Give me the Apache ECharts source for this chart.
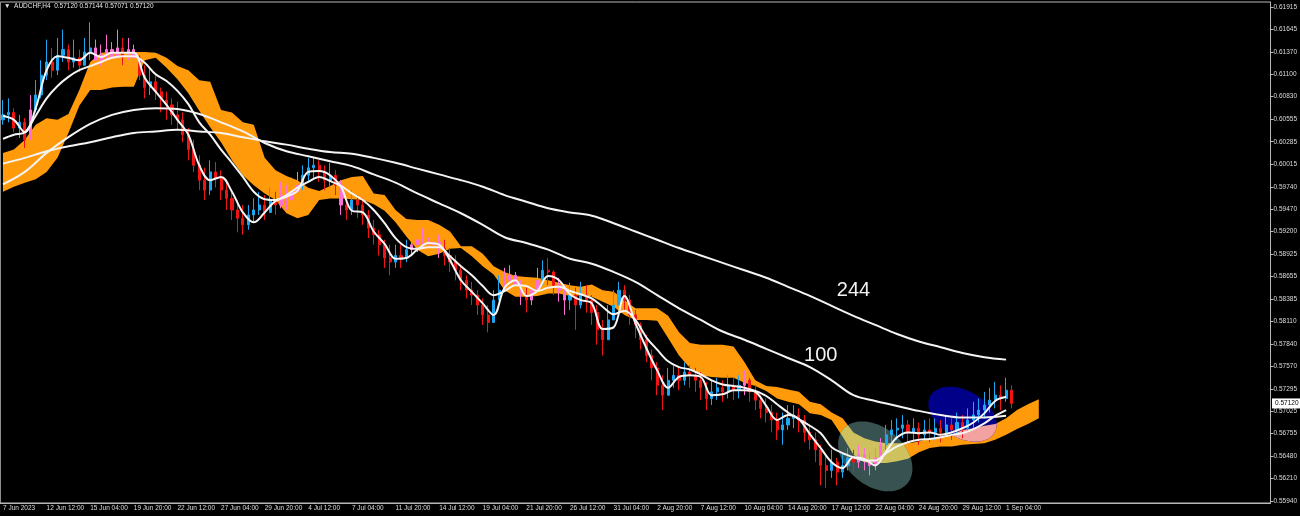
<!DOCTYPE html>
<html>
<head>
<meta charset="utf-8">
<title>AUDCHF,H4</title>
<script src="https://cdn.jsdelivr.net/npm/echarts@6/dist/echarts.min.js"></script>
<style>
  html, body { margin: 0; padding: 0; background: #000; }
  #chart { width: 1300px; height: 516px; }
</style>
</head>
<body>
<div id="chart"></div>
<script>
// axis tick labels
const xLabels = ['7 Jun 2023', '12 Jun 12:00', '15 Jun 04:00', '19 Jun 20:00', '22 Jun 12:00', '27 Jun 04:00',
  '29 Jun 20:00', '4 Jul 12:00', '7 Jul 04:00', '11 Jul 20:00', '14 Jul 12:00', '19 Jul 04:00', '21 Jul 20:00',
  '26 Jul 12:00', '31 Jul 04:00', '2 Aug 20:00', '7 Aug 12:00', '10 Aug 04:00', '14 Aug 20:00', '17 Aug 12:00',
  '22 Aug 04:00', '24 Aug 20:00', '29 Aug 12:00', '1 Sep 04:00'];
const yTicks = [0.61915, 0.61645, 0.61370, 0.61100, 0.60830, 0.60555, 0.60285, 0.60015, 0.59740, 0.59470,
  0.59200, 0.58925, 0.58655, 0.58385, 0.58110, 0.57840, 0.57570, 0.57295, 0.57025, 0.56755, 0.56480,
  0.56210, 0.55940];

// candles, two H4 bars each; open = previous close
const firstOpen = 0.6055;
const closes = [
  0.6061, 0.6064, 0.6045, 0.6052, 0.6031, 0.6067, 0.6085, 0.6109, 0.6125, 0.6115,
  0.6133, 0.6140, 0.6125, 0.6130, 0.6121, 0.6137, 0.6142, 0.6127, 0.6133, 0.6140,
  0.6130, 0.6142, 0.6133, 0.6140, 0.6130, 0.6109, 0.6094, 0.6101, 0.6089, 0.6079,
  0.6073, 0.6061, 0.6055, 0.6037, 0.6019, 0.6000, 0.5982, 0.5970, 0.5992, 0.5985,
  0.5970, 0.5960, 0.5946, 0.5936, 0.5928, 0.5940, 0.5946, 0.5952, 0.5943, 0.5958,
  0.5952, 0.5964, 0.5958, 0.5968, 0.5976, 0.5988, 0.5997, 0.6000, 0.5992, 0.5982,
  0.5988, 0.5976, 0.5952, 0.5946, 0.5958, 0.5952, 0.5940, 0.5924, 0.5916, 0.5904,
  0.5888, 0.5883, 0.5891, 0.5888, 0.5898, 0.5904, 0.5910, 0.5912, 0.5904, 0.5907,
  0.5900, 0.5891, 0.5883, 0.5873, 0.5861, 0.5849, 0.5843, 0.5831, 0.5819, 0.5810,
  0.5837, 0.5849, 0.5861, 0.5867, 0.5855, 0.5843, 0.5837, 0.5849, 0.5861, 0.5873,
  0.5871, 0.5855, 0.5849, 0.5837, 0.5843, 0.5831, 0.5843, 0.5837, 0.5822, 0.5801,
  0.5789, 0.5813, 0.5831, 0.5849, 0.5837, 0.5819, 0.5807, 0.5789, 0.5770, 0.5755,
  0.5734, 0.5722, 0.5740, 0.5746, 0.5740, 0.5750, 0.5746, 0.5740, 0.5731, 0.5718,
  0.5726, 0.5731, 0.5726, 0.5734, 0.5728, 0.5734, 0.5740, 0.5726, 0.5716, 0.5706,
  0.5701, 0.5692, 0.5680, 0.5686, 0.5694, 0.5698, 0.5692, 0.5677, 0.5668, 0.5656,
  0.5637, 0.5631, 0.5641, 0.5629, 0.5637, 0.5646, 0.5641, 0.5650, 0.5643, 0.5637,
  0.5646, 0.5662, 0.5674, 0.5680, 0.5682, 0.5686, 0.5677, 0.5682, 0.5674, 0.5680,
  0.5677, 0.5682, 0.5677, 0.5686, 0.5680, 0.5689, 0.5682, 0.5692, 0.5698, 0.5704,
  0.5710, 0.5716, 0.5722, 0.5718, 0.5728, 0.5712];
const highs = [
  0.6079, 0.6081, 0.6069, 0.6061, 0.6057, 0.6085, 0.6103, 0.6127, 0.6152, 0.6142,
  0.6154, 0.6164, 0.6146, 0.6152, 0.6140, 0.6154, 0.6173, 0.6152, 0.6146, 0.6158,
  0.6149, 0.6164, 0.6154, 0.6154, 0.6146, 0.6133, 0.6121, 0.6118, 0.6109, 0.6094,
  0.6089, 0.6081, 0.6077, 0.6064, 0.6045, 0.6031, 0.6012, 0.5997, 0.6006, 0.6004,
  0.5994, 0.5982, 0.5970, 0.5958, 0.5952, 0.5952, 0.5960, 0.5968, 0.5964, 0.5973,
  0.5968, 0.5980, 0.5976, 0.5985, 0.5992, 0.6000, 0.6009, 0.6009, 0.6006, 0.6000,
  0.6003, 0.5994, 0.5982, 0.5960, 0.5970, 0.5964, 0.5960, 0.5946, 0.5934, 0.5922,
  0.5910, 0.5904, 0.5904, 0.5904, 0.5910, 0.5919, 0.5924, 0.5924, 0.5919, 0.5919,
  0.5916, 0.5910, 0.5900, 0.5891, 0.5879, 0.5867, 0.5859, 0.5849, 0.5839, 0.5831,
  0.5849, 0.5867, 0.5876, 0.5879, 0.5871, 0.5861, 0.5852, 0.5864, 0.5876, 0.5885,
  0.5888, 0.5873, 0.5864, 0.5855, 0.5858, 0.5852, 0.5859, 0.5855, 0.5843, 0.5831,
  0.5813, 0.5831, 0.5849, 0.5859, 0.5855, 0.5843, 0.5825, 0.5810, 0.5795, 0.5777,
  0.5762, 0.5746, 0.5755, 0.5758, 0.5755, 0.5762, 0.5758, 0.5755, 0.5750, 0.5738,
  0.5740, 0.5743, 0.5740, 0.5746, 0.5743, 0.5746, 0.5752, 0.5743, 0.5734, 0.5722,
  0.5718, 0.5710, 0.5701, 0.5701, 0.5710, 0.5710, 0.5706, 0.5698, 0.5686, 0.5677,
  0.5662, 0.5649, 0.5656, 0.5646, 0.5653, 0.5658, 0.5656, 0.5662, 0.5658, 0.5653,
  0.5658, 0.5670, 0.5686, 0.5692, 0.5694, 0.5698, 0.5692, 0.5694, 0.5689, 0.5692,
  0.5694, 0.5694, 0.5692, 0.5698, 0.5694, 0.5701, 0.5698, 0.5706, 0.5714, 0.5718,
  0.5726, 0.5731, 0.5738, 0.5734, 0.5743, 0.5734];
const lows = [
  0.6049, 0.6052, 0.6040, 0.6033, 0.6021, 0.6031, 0.6064, 0.6081, 0.6103, 0.6106,
  0.6109, 0.6125, 0.6115, 0.6118, 0.6113, 0.6120, 0.6127, 0.6118, 0.6120, 0.6127,
  0.6121, 0.6125, 0.6121, 0.6127, 0.6121, 0.6103, 0.6081, 0.6085, 0.6079, 0.6064,
  0.6055, 0.6049, 0.6043, 0.6028, 0.6006, 0.5992, 0.5970, 0.5958, 0.5964, 0.5973,
  0.5958, 0.5946, 0.5934, 0.5919, 0.5916, 0.5922, 0.5931, 0.5940, 0.5934, 0.5943,
  0.5940, 0.5948, 0.5946, 0.5951, 0.5960, 0.5970, 0.5980, 0.5982, 0.5980, 0.5970,
  0.5973, 0.5964, 0.5940, 0.5934, 0.5940, 0.5936, 0.5928, 0.5912, 0.5904, 0.5891,
  0.5876, 0.5867, 0.5876, 0.5876, 0.5883, 0.5891, 0.5895, 0.5900, 0.5891, 0.5895,
  0.5888, 0.5879, 0.5871, 0.5861, 0.5849, 0.5839, 0.5831, 0.5819, 0.5807, 0.5798,
  0.5815, 0.5837, 0.5847, 0.5852, 0.5843, 0.5831, 0.5822, 0.5831, 0.5843, 0.5855,
  0.5855, 0.5843, 0.5835, 0.5819, 0.5825, 0.5801, 0.5827, 0.5822, 0.5807, 0.5783,
  0.5770, 0.5795, 0.5813, 0.5831, 0.5825, 0.5807, 0.5791, 0.5777, 0.5762, 0.5740,
  0.5722, 0.5704, 0.5722, 0.5731, 0.5728, 0.5734, 0.5731, 0.5726, 0.5716, 0.5704,
  0.5710, 0.5716, 0.5714, 0.5718, 0.5716, 0.5718, 0.5722, 0.5714, 0.5704, 0.5694,
  0.5689, 0.5677, 0.5668, 0.5662, 0.5680, 0.5682, 0.5677, 0.5665, 0.5656, 0.5641,
  0.5613, 0.5610, 0.5622, 0.5613, 0.5622, 0.5631, 0.5629, 0.5634, 0.5631, 0.5625,
  0.5631, 0.5641, 0.5656, 0.5662, 0.5668, 0.5670, 0.5665, 0.5668, 0.5662, 0.5668,
  0.5665, 0.5668, 0.5665, 0.5670, 0.5668, 0.5674, 0.5670, 0.5677, 0.5682, 0.5689,
  0.5694, 0.5701, 0.5706, 0.5704, 0.5714, 0.5706];

// moving averages: fast and mid read every 2 candles, 100 and 244 every 4
const maFast = [
  0.6060, 0.6055, 0.6040, 0.6069, 0.6115, 0.6132, 0.6130, 0.6127, 0.6136, 0.6131,
  0.6136, 0.6136, 0.6136, 0.6106, 0.6089, 0.6073, 0.6055, 0.6037, 0.6000, 0.5982,
  0.5986, 0.5968, 0.5943, 0.5931, 0.5943, 0.5957, 0.5962, 0.5969, 0.5992, 0.5993,
  0.5988, 0.5974, 0.5945, 0.5943, 0.5920, 0.5905, 0.5887, 0.5888, 0.5898, 0.5906,
  0.5904, 0.5885, 0.5861, 0.5847, 0.5833, 0.5819, 0.5852, 0.5861, 0.5842, 0.5848,
  0.5866, 0.5861, 0.5844, 0.5837, 0.5833, 0.5802, 0.5804, 0.5842, 0.5809, 0.5779,
  0.5752, 0.5731, 0.5744, 0.5746, 0.5744, 0.5722, 0.5723, 0.5728, 0.5728, 0.5726,
  0.5709, 0.5692, 0.5698, 0.5693, 0.5675, 0.5658, 0.5641, 0.5634, 0.5647, 0.5645,
  0.5637, 0.5654, 0.5671, 0.5677, 0.5676, 0.5677, 0.5674, 0.5677, 0.5682, 0.5689,
  0.5700, 0.5715, 0.5720];
const maMid = [
  0.6032, 0.6037, 0.6040, 0.6060, 0.6081, 0.6096, 0.6107, 0.6115, 0.6120, 0.6125,
  0.6130, 0.6132, 0.6132, 0.6124, 0.6110, 0.6102, 0.6090, 0.6074, 0.6052, 0.6037,
  0.6019, 0.6003, 0.5986, 0.5968, 0.5959, 0.5958, 0.5964, 0.5973, 0.5980, 0.5986,
  0.5981, 0.5975, 0.5966, 0.5958, 0.5946, 0.5930, 0.5912, 0.5901, 0.5899, 0.5901,
  0.5901, 0.5890, 0.5878, 0.5867, 0.5854, 0.5843, 0.5848, 0.5855, 0.5854, 0.5848,
  0.5852, 0.5853, 0.5848, 0.5844, 0.5839, 0.5829, 0.5820, 0.5824, 0.5813, 0.5792,
  0.5777, 0.5763, 0.5756, 0.5753, 0.5747, 0.5740, 0.5735, 0.5733, 0.5731, 0.5727,
  0.5721, 0.5711, 0.5701, 0.5693, 0.5685, 0.5676, 0.5659, 0.5652, 0.5647, 0.5643,
  0.5643, 0.5652, 0.5660, 0.5665, 0.5668, 0.5669, 0.5671, 0.5674, 0.5676, 0.5681,
  0.5688, 0.5697, 0.5704];
const ma100 = [
  0.5977, 0.5992, 0.6015, 0.6034, 0.6050, 0.6061, 0.6067, 0.6069, 0.6068, 0.6062,
  0.6052, 0.6041, 0.6027, 0.6017, 0.6011, 0.6005, 0.5999, 0.5989, 0.5979, 0.5966,
  0.5954, 0.5942, 0.5928, 0.5913, 0.5906, 0.5898, 0.5887, 0.5881, 0.5871, 0.5859,
  0.5843, 0.5827, 0.5813, 0.5799, 0.5789, 0.5778, 0.5767, 0.5756, 0.5740, 0.5722,
  0.5715, 0.5709, 0.5703, 0.5698, 0.5695, 0.5695, 0.5697];
const ma244 = [
  0.6002, 0.6009, 0.6017, 0.6023, 0.6028, 0.6034, 0.6039, 0.6041, 0.6043, 0.6041,
  0.6039, 0.6034, 0.6029, 0.6025, 0.6020, 0.6016, 0.6014, 0.6009, 0.6003, 0.5996,
  0.5989, 0.5982, 0.5974, 0.5964, 0.5956, 0.5948, 0.5943, 0.5939, 0.5930, 0.5920,
  0.5910, 0.5900, 0.5891, 0.5882, 0.5873, 0.5864, 0.5853, 0.5842, 0.5830, 0.5818,
  0.5807, 0.5796, 0.5787, 0.5780, 0.5773, 0.5768, 0.5765];

// ichimoku cloud edges, every 2 candles (runs 26 bars ahead of price)
const cloudTop = [
  0.6015, 0.6019, 0.6031, 0.6049, 0.6057, 0.6055, 0.6062, 0.6091, 0.6125, 0.6136,
  0.6137, 0.6137, 0.6137, 0.6137, 0.6136, 0.6130, 0.6120, 0.6115, 0.6103, 0.6101,
  0.6067, 0.6064, 0.6052, 0.6049, 0.6009, 0.5994, 0.5987, 0.5982, 0.5973, 0.5969,
  0.5975, 0.5982, 0.5986, 0.5987, 0.5966, 0.5964, 0.5946, 0.5935, 0.5934, 0.5934,
  0.5928, 0.5920, 0.5902, 0.5902, 0.5893, 0.5878, 0.5871, 0.5866, 0.5865, 0.5864,
  0.5861, 0.5858, 0.5855, 0.5853, 0.5856, 0.5849, 0.5847, 0.5837, 0.5827, 0.5827,
  0.5827, 0.5818, 0.5798, 0.5785, 0.5783, 0.5783, 0.5783, 0.5781, 0.5762, 0.5740,
  0.5733, 0.5732, 0.5729, 0.5726, 0.5714, 0.5711, 0.5701, 0.5694, 0.5677, 0.5670,
  0.5666, 0.5664, 0.5664, 0.5664, 0.5666, 0.5670, 0.5671, 0.5674, 0.5680, 0.5682,
  0.5685, 0.5687, 0.5694, 0.5704, 0.5711, 0.5717];
const cloudBottom = [
  0.5968, 0.5974, 0.5979, 0.5983, 0.5992, 0.6009, 0.6039, 0.6072, 0.6091, 0.6091,
  0.6094, 0.6095, 0.6095, 0.6127, 0.6130, 0.6118, 0.6104, 0.6087, 0.6066, 0.6046,
  0.6028, 0.6006, 0.5988, 0.5976, 0.5966, 0.5958, 0.5942, 0.5936, 0.5940, 0.5958,
  0.5960, 0.5960, 0.5959, 0.5958, 0.5953, 0.5945, 0.5931, 0.5914, 0.5898, 0.5890,
  0.5893, 0.5899, 0.5900, 0.5890, 0.5878, 0.5868, 0.5849, 0.5841, 0.5841, 0.5842,
  0.5845, 0.5845, 0.5842, 0.5843, 0.5841, 0.5835, 0.5829, 0.5819, 0.5813, 0.5813,
  0.5812, 0.5791, 0.5770, 0.5755, 0.5746, 0.5744, 0.5743, 0.5743, 0.5737, 0.5733,
  0.5727, 0.5718, 0.5714, 0.5711, 0.5700, 0.5698, 0.5692, 0.5672, 0.5650, 0.5641,
  0.5640, 0.5640, 0.5642, 0.5645, 0.5653, 0.5658, 0.5660, 0.5660, 0.5662, 0.5663,
  0.5664, 0.5668, 0.5674, 0.5681, 0.5687, 0.5694];

const SLOTS = 233;   // candle slots across the whole plot, incl. the empty right shift
const LABEL_STEP = 8;

// hand-drawn ellipses on the chart: centre in data units, radii in px
const zones = [
  { at: [160, 0.5648], rx: 42, ry: 29, tilt: 0.70, fill: '#385252', over: '#cfc25e' },
  { at: [176, 0.5699], rx: 37, ry: 23.5, tilt: 0.52, fill: '#000088', over: '#f2a2a0' }
];

const UP = '#1ea6f0', DOWN = '#f01414';
// candles sitting inside the cloud show through it (MT4 xor look)
const UP_IN = '#ff6fd8', DOWN_IN = '#3c9a2c';

const insideCloud = (i, o, c) => {
  const k = Math.round(i / 2);
  if (k >= cloudTop.length) return false;
  const a = Math.min(cloudTop[k], cloudBottom[k]);
  const b = Math.max(cloudTop[k], cloudBottom[k]);
  const m = (o + c) / 2;
  return m >= a && m <= b;
};

const candles = closes.map((c, i) => {
  const o = i === 0 ? firstOpen : closes[i - 1];
  const item = { value: [o, c, Math.min(lows[i], o, c), Math.max(highs[i], o, c)] };
  if (insideCloud(i, o, c)) {
    item.itemStyle = { color: UP_IN, color0: DOWN_IN, borderColor: UP_IN, borderColor0: DOWN_IN };
  }
  return item;
});
const every = (arr, step) => arr.map((v, k) => [k * step, v]);

function cloudPoints(api) {
  const pts = cloudTop.map((v, k) => api.coord([2 * k, v]));
  for (let k = cloudBottom.length - 1; k >= 0; k--) {
    pts.push(api.coord([2 * k, cloudBottom[k]]));
  }
  return pts;
}

function ellipseRing(cx, cy, z) {
  const ring = [];
  for (let t = 0; t < 72; t++) {
    const a = (t / 72) * Math.PI * 2;
    const ex = z.rx * Math.cos(a);
    const ey = z.ry * Math.sin(a);
    ring.push([
      cx + ex * Math.cos(z.tilt) - ey * Math.sin(z.tilt),
      cy + ex * Math.sin(z.tilt) + ey * Math.cos(z.tilt)
    ]);
  }
  return ring;
}

const maLine = (name, data) => ({
  name,
  type: 'line',
  data,
  z: 6,
  smooth: 0.35,
  showSymbol: false,
  silent: true,
  lineStyle: { color: '#f4f4f4', width: 2 }
});

const axisFont = { fontFamily: 'Liberation Sans', fontSize: 6.5, color: '#dcdcdc' };
const tickEvery = (idx) => idx % LABEL_STEP === 0 && idx / LABEL_STEP < xLabels.length;

const chart = echarts.init(document.getElementById('chart'));

chart.setOption({
  backgroundColor: '#000',
  animation: false,
  grid: {
    left: 0,
    right: 29,
    top: 2,
    bottom: 13,
    show: true,
    borderColor: '#b8b8b8',
    borderWidth: 1
  },
  xAxis: {
    type: 'category',
    data: Array.from({ length: SLOTS }, (_, i) => String(i)),
    boundaryGap: true,
    axisLine: { lineStyle: { color: '#b8b8b8' } },
    axisTick: { interval: tickEvery, length: 4, lineStyle: { color: '#b8b8b8' } },
    axisLabel: {
      ...axisFont,
      interval: tickEvery,
      align: 'left',
      margin: 2,
      formatter: (v, idx) => xLabels[idx / LABEL_STEP] || ''
    },
    splitLine: { show: false }
  },
  yAxis: {
    type: 'value',
    position: 'right',
    min: 0.55916,
    max: 0.61975,
    axisLine: { show: true, lineStyle: { color: '#b8b8b8' } },
    axisTick: { show: true, length: 3, customValues: yTicks, lineStyle: { color: '#b8b8b8' } },
    axisLabel: {
      ...axisFont,
      customValues: yTicks,
      margin: 3,
      formatter: (v) => v.toFixed(5)
    },
    splitLine: { show: false }
  },
  series: [
    {
      name: 'cloud',
      type: 'custom',
      z: 1,
      clip: false,
      silent: true,
      data: [[0, cloudTop[0]]],
      renderItem: (params, api) => ({
        type: 'polygon',
        shape: { points: cloudPoints(api) },
        style: { fill: '#ff9a0a' }
      })
    },
    {
      name: 'zones',
      type: 'custom',
      z: 2,
      clip: false,
      silent: true,
      data: zones.map((z) => z.at),
      renderItem: (params, api) => {
        const z = zones[params.dataIndex];
        const c = api.coord(z.at);
        const ring = ellipseRing(c[0], c[1], z);
        return {
          type: 'group',
          children: [
            { type: 'polygon', shape: { points: ring }, style: { fill: z.fill } },
            {
              type: 'polygon',
              shape: { points: cloudPoints(api) },
              style: { fill: z.over },
              clipPath: { type: 'polygon', shape: { points: ring } }
            }
          ]
        };
      }
    },
    {
      name: 'AUDCHF',
      type: 'candlestick',
      data: candles,
      z: 4,
      silent: true,
      barWidth: 2.6,
      itemStyle: {
        color: UP,
        color0: DOWN,
        borderColor: UP,
        borderColor0: DOWN,
        borderWidth: 1
      }
    },
    maLine('MA fast', every(maFast, 2)),
    maLine('MA mid', every(maMid, 2)),
    maLine('MA 100', every(ma100, 4)),
    maLine('MA 244', every(ma244, 4))
  ]
});

// overlay texts anchored to data coordinates
const at = (cat, price) => chart.convertToPixel({ gridIndex: 0 }, [cat, price]);
const p244 = at(156, 0.5849);
const p100 = at(150, 0.5770);
const pLast = at(0, 0.57120);

chart.setOption({
  graphic: [
    {
      type: 'text', left: 4, top: 3,
      style: {
        text: '\u25BC  AUDCHF,H4  0.57120 0.57144 0.57071 0.57120',
        fill: '#e6e6e6', font: '6.5px "Liberation Sans"'
      }
    },
    {
      type: 'text', x: p244[0], y: p244[1],
      style: { text: '244', fill: '#f2f2f2', font: '20px "Liberation Sans"', align: 'center', verticalAlign: 'middle' }
    },
    {
      type: 'text', x: p100[0], y: p100[1],
      style: { text: '100', fill: '#f2f2f2', font: '20px "Liberation Sans"', align: 'center', verticalAlign: 'middle' }
    },
    {
      type: 'rect', shape: { x: 1272, y: pLast[1] - 5, width: 28, height: 10 },
      style: { fill: '#ffffff' }
    },
    {
      type: 'text', x: 1275, y: pLast[1],
      style: { text: '0.57120', fill: '#000', font: '6.5px "Liberation Sans"', verticalAlign: 'middle' }
    }
  ]
});
</script>
</body>
</html>
